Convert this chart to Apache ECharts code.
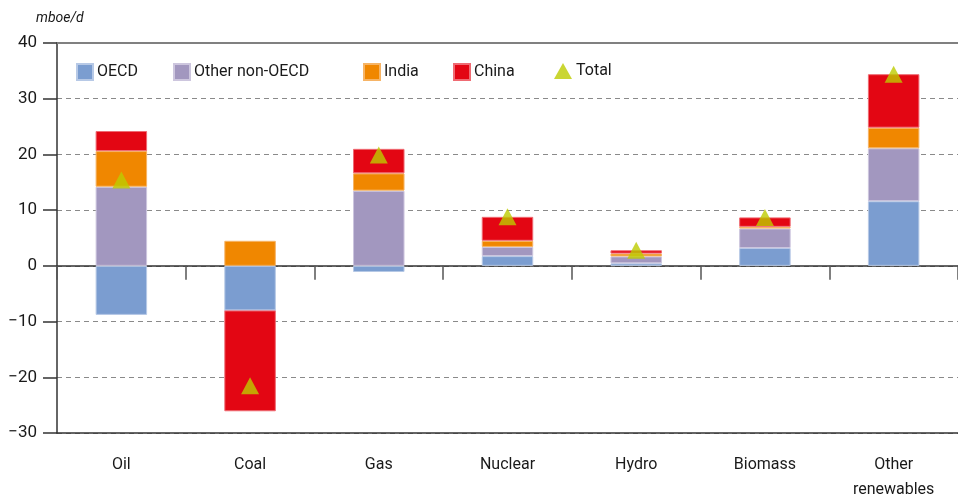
<!DOCTYPE html>
<html>
<head>
<meta charset="utf-8">
<script src="https://cdn.jsdelivr.net/npm/echarts@6/dist/echarts.min.js"></script>
<style>
html,body{margin:0;padding:0;background:#fff;overflow:hidden;}
#c{width:958px;height:499px;}
</style>
</head>
<body>
<div id="c"></div>
<script>
var categories = ['Oil', 'Coal', 'Gas', 'Nuclear', 'Hydro', 'Biomass', 'Other\nrenewables'];
var oecd = [-8.8, -8.0, -1.1, 1.75, 0.45, 3.2, 11.6];
var otherNonOecd = [14.2, 0, 13.5, 1.65, 1.25, 3.5, 9.5];
var india = [6.4, 4.5, 3.1, 1.1, 0.5, 0.3, 3.7];
var china = [3.6, -18.1, 4.4, 4.3, 0.6, 1.7, 9.6];
var total = [15.4, -21.5, 19.9, 8.8, 2.8, 8.7, 34.4];
var yTicks = [-30, -20, -10, 0, 10, 20, 30, 40];

var FONT = 'Roboto';
var chart = echarts.init(document.getElementById('c'));

function barSeries(name, data, color, border) {
  return {
    name: name, type: 'bar', stack: 'all', data: data,
    barWidth: '40%',
    itemStyle: { color: color, borderColor: border, borderWidth: 1 },
    xAxisIndex: 0, yAxisIndex: 0
  };
}
function legendAt(name, left, icon, w, h) {
  return {
    data: [{ name: name, icon: icon }],
    left: left, top: 63, itemWidth: w, itemHeight: h, itemGap: 0,
    textStyle: { fontFamily: FONT, fontSize: 16, color: '#1a1a1a', padding: [0, 0, 0, -1] },
    padding: 0
  };
}

chart.setOption({
  animation: false,
  textStyle: { fontFamily: FONT },
  title: {
    text: 'mboe/d', left: 31, top: 6,
    textStyle: { fontFamily: FONT, fontSize: 14, fontStyle: 'italic', fontWeight: 'normal', color: '#1a1a1a' }
  },
  legend: [
    legendAt('OECD', 76, 'rect', 16, 16),
    legendAt('Other non-OECD', 173, 'rect', 16, 16),
    legendAt('India', 363, 'rect', 16, 16),
    legendAt('China', 453, 'rect', 16, 16),
    legendAt('Total', 554, 'triangle', 18, 16)
  ],
  grid: { left: 57, right: 0, top: 43, bottom: 66, containLabel: false, outerBoundsMode: 'none' },
  xAxis: [
    {
      type: 'category', data: categories, position: 'bottom',
      axisLine: { onZero: false, lineStyle: { color: '#333', width: 1.5 } },
      axisTick: { show: false },
      axisLabel: { fontFamily: FONT, fontSize: 16, color: '#1a1a1a', margin: 19, lineHeight: 25, interval: 0 },
      splitLine: { show: false }
    },
    {
      type: 'category', data: categories, position: 'bottom',
      axisLine: { onZero: true, lineStyle: { color: '#333', width: 1.5 } },
      axisTick: { show: true, interval: 0, length: 14, lineStyle: { color: '#555', width: 1.5 } },
      axisLabel: { show: false },
      splitLine: { show: false }
    },
    {
      type: 'category', data: categories, position: 'top',
      axisLine: { onZero: false, lineStyle: { color: '#808080', width: 2 } },
      axisTick: { show: false },
      axisLabel: { show: false }
    }
  ],
  yAxis: {
    type: 'value', min: yTicks[0], max: yTicks[yTicks.length - 1], interval: 10,
    axisLine: { show: true, lineStyle: { color: '#333', width: 1.5 } },
    axisTick: { show: true, length: 14, lineStyle: { color: '#333', width: 1.5 } },
    axisLabel: {
      fontFamily: FONT, fontSize: 17, color: '#1a1a1a', margin: 20,
      formatter: function (v) { return v < 0 ? '\u2212' + Math.abs(v) : String(v); }
    },
    splitLine: { show: true, lineStyle: { color: '#8a8a8a', type: [5, 4], width: 1 } }
  },
  series: [
    barSeries('OECD', oecd, '#7b9dd0', '#b7c9e6'),
    barSeries('Other non-OECD', otherNonOecd, '#a297bf', '#cdc6de'),
    barSeries('India', india, '#f08700', '#f6b466'),
    barSeries('China', china, '#e30613', '#ef6b73'),
    {
      name: 'Total', type: 'scatter', data: total,
      symbol: 'triangle', symbolSize: [18, 17],
      itemStyle: { color: '#bdcc00' },
      xAxisIndex: 0, yAxisIndex: 0, z: 5
    }
  ]
});
</script>
</body>
</html>
